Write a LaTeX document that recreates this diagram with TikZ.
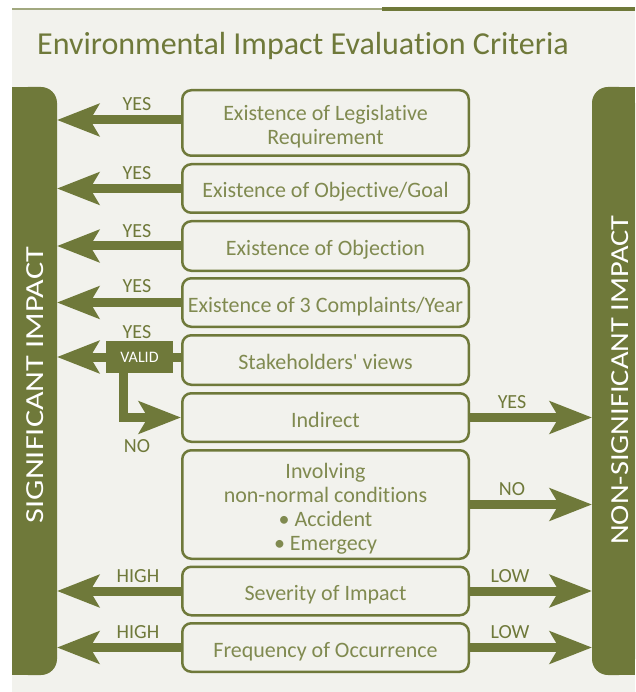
\documentclass[tikz,border=0pt]{standalone}
\usepackage{fontspec}
\setmainfont{Carlito}[Ligatures=NoCommon]
\usetikzlibrary{arrows.meta}
\definecolor{ol}{RGB}{111,121,58}
\definecolor{oltext}{RGB}{128,138,80}
\definecolor{bg}{RGB}{242,242,237}
\tikzset{
  box/.style={draw=ol, line width=2.5pt, rounded corners=9pt, fill=bg,
    minimum width=286.5pt, text=oltext, font=\fontsize{22}{24}\selectfont,
    align=center, inner sep=0pt},
  oneline/.style={text height=20pt, text depth=1pt},
  arr/.style={draw=ol, line width=9pt, -{Stealth[length=42pt, width=32pt, inset=9pt]}},
  shaft/.style={draw=ol, line width=9pt},
  lbl/.style={text=ol, font=\fontsize{20}{20}\selectfont, anchor=base, inner sep=0pt},
  bartext/.style={text=white, font=\fontsize{26}{26}\selectfont, anchor=base, rotate=90, inner sep=0pt}
}
\begin{document}
\begin{tikzpicture}[x=1pt,y=-1pt]
\useasboundingbox (0,0) rectangle (635,692);
% background and top rules
\fill[bg] (12,10) rectangle (635,692);
\draw[ol!65!white, line width=1.5pt] (12,9) -- (382,9);
\draw[ol, line width=4pt] (382,9) -- (635,9);
% title
\node[anchor=base west, text=ol, font=\fontsize{32}{32}\selectfont, inner sep=0pt] (title) at (37,55) {Environmental Impact Evaluation Criteria};
% side bars
\fill[ol, rounded corners=16pt] (12,87) rectangle (57,675);
\fill[ol] (12,87) rectangle (35,675);
\fill[ol, rounded corners=16pt] (592,87) rectangle (635,675);
\fill[ol] (615,87) rectangle (635,675);
\coordinate (L) at (57,0);
\coordinate (R) at (592,0);
\coordinate (V) at (123,0);
\node[bartext] (sig) at (43,385) {\scalebox{1.24}[1]{SIGNIFICANT IMPACT}};
\node[bartext] (nonsig) at (628,380) {\scalebox{1.17}[1]{NON-SIGNIFICANT IMPACT}};
% criteria boxes
\node[box, minimum height=65.5pt] (b1) at (325.5,123) {\raisebox{-5pt}[\height][\depth]{\begin{tabular}{@{}c@{}}Existence of Legislative\\Requirement\end{tabular}}};
\node[box, oneline, minimum height=48.5pt] (b2) at (325.5,188.5) {Existence of Objective/Goal};
\node[box, oneline, minimum height=49.5pt] (b3) at (325.5,246) {Existence of Objection};
\node[box, oneline, minimum height=48.5pt] (b4) at (325.5,302.5) {Existence of 3 Complaints/Year};
\node[box, oneline, minimum height=49.5pt] (b5) at (325.5,360) {Stakeholders\textquotesingle\ views};
\node[box, oneline, minimum height=48.5pt] (b6) at (325.5,417.5) {Indirect};
\node[box, minimum height=108.5pt] (b7) at (325.5,504.5) {\raisebox{-5pt}[\height][\depth]{\begin{tabular}{@{}c@{}}Involving\\non-normal conditions\\\textbullet\ Accident\\\textbullet\ Emergecy\end{tabular}}};
\node[box, oneline, minimum height=48.5pt] (b8) at (325.5,591) {Severity of Impact};
\node[box, oneline, minimum height=48.5pt] (b9) at (325.5,647.5) {Frequency of Occurrence};
% VALID tag
\node[fill=ol, minimum width=67pt, minimum height=32pt, inner sep=0pt, text=white, font=\fontsize{16}{16}\selectfont] (valid) at (139.5,357) {VALID};
% arrows to significant impact
\draw[arr] ([yshift=3pt]b1.west) -- ([yshift=3pt]b1.west -| L);
\draw[arr] (b2.west) -- (b2.west -| L);
\draw[arr] (b3.west) -- (b3.west -| L);
\draw[arr] (b4.west) -- (b4.west -| L);
\draw[shaft] (b5.west |- valid) -- (valid.east);
\draw[arr] (valid.west) -- (valid.west -| L);
\draw[arr, line join=miter] (valid.south -| V) |- (b6.west);
\draw[arr] (b8.west) -- (b8.west -| L);
\draw[arr] (b9.west) -- (b9.west -| L);
% arrows to non-significant impact
\draw[arr] (b6.east) -- (b6.east -| R);
\draw[arr] (b7.east) -- (b7.east -| R);
\draw[arr] (b8.east) -- (b8.east -| R);
\draw[arr] (b9.east) -- (b9.east -| R);
% labels
\node[lbl] (y1) at (137,111) {YES};
\node[lbl] (y2) at (137,180) {YES};
\node[lbl] (y3) at (137,237) {YES};
\node[lbl] (y4) at (137,292) {YES};
\node[lbl] (y5) at (137,338) {YES};
\node[lbl] (n5) at (137,452) {NO};
\node[lbl] (y6) at (512,408) {YES};
\node[lbl] (n7) at (512,495) {NO};
\node[lbl] (h8) at (138,582) {HIGH};
\node[lbl] (l8) at (510,582) {LOW};
\node[lbl] (h9) at (138,638) {HIGH};
\node[lbl] (l9) at (510,638) {LOW};
\end{tikzpicture}
\end{document}
